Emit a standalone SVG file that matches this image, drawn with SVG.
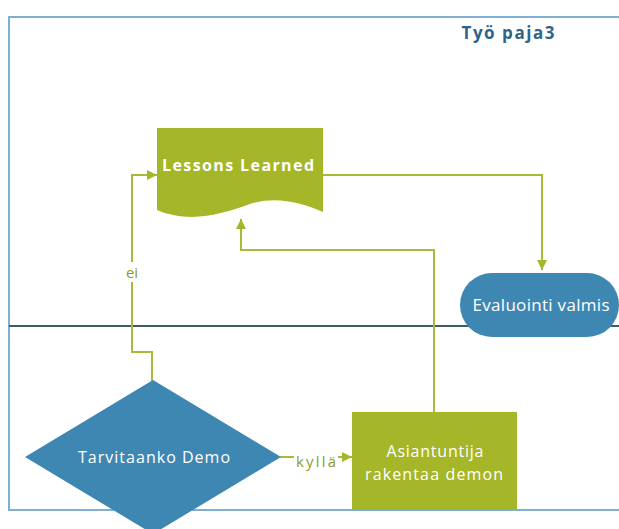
<svg xmlns="http://www.w3.org/2000/svg" width="619" height="529" viewBox="0 0 619 529">
  <style>
    .lane { fill: none; stroke: #7fb0d4; stroke-width: 2; }
    .divider { fill: none; stroke: #3c5c72; stroke-width: 2.2; }
    .green { fill: #a5b629; }
    .blue { fill: #3f87b3; }
    .conn { fill: none; stroke: #a9b93a; stroke-width: 2; }
    .label { font-family: "Open Sans", "Liberation Sans", sans-serif; fill: #ffffff; text-anchor: middle; }
    .clabel { font-family: "Open Sans", "Liberation Sans", sans-serif; fill: #8e9c2a; font-size: 15px; text-anchor: middle; }
  </style>
  <defs>
    <marker id="arrow" viewBox="0 0 10 10" refX="10" refY="5" markerWidth="10" markerHeight="10" markerUnits="userSpaceOnUse" orient="auto">
      <path d="M0,0 L10,5 L0,10 Z" fill="#a5b629"/>
    </marker>
  </defs>

  <rect width="619" height="529" fill="#ffffff"/>

  <!-- swimlane frame -->
  <g id="lanes">
    <line class="lane" x1="9" y1="17" x2="619" y2="17"/>
    <line class="lane" x1="9" y1="16" x2="9" y2="511"/>
    <line class="lane" x1="9" y1="510" x2="619" y2="510"/>
    <line class="divider" x1="9" y1="326" x2="619" y2="326"/>
    <text x="508" y="39" font-family="Open Sans, Liberation Sans, sans-serif" font-weight="bold" font-size="17" fill="#2f6489" text-anchor="middle" textLength="93" lengthAdjust="spacing">Työ paja3</text>
  </g>

  <!-- connectors -->
  <g id="connectors">
    <path class="conn" d="M323,175 H542 V270" marker-end="url(#arrow)"/>
    <path class="conn" d="M434,412 V250 H241 V219" marker-end="url(#arrow)"/>
    <path class="conn" d="M152,381 V352 H132 V175 H157" marker-end="url(#arrow)"/>
    <path class="conn" d="M280,457 H352" marker-end="url(#arrow)"/>
    <rect x="121" y="262" width="22" height="20" fill="#ffffff"/>
    <text class="clabel" x="132" y="278">ei</text>
    <rect x="294" y="450" width="44" height="20" fill="#ffffff"/>
    <text class="clabel" x="316" y="467" textLength="40" lengthAdjust="spacing">kyllä</text>
  </g>

  <g id="lessons-learned">
    <path class="green" d="M157,128 H323 V212 C300,202 275,196 250,204 C222,214 190,224 157,210 Z"/>
    <text class="label" x="238" y="171" font-size="16" font-weight="bold" textLength="152" lengthAdjust="spacing">Lessons Learned</text>
  </g>

  <g id="evaluointi-valmis">
    <rect class="blue" x="460" y="273" width="159" height="64" rx="32" ry="32"/>
    <text class="label" x="541" y="311" font-size="17" textLength="137" lengthAdjust="spacing">Evaluointi valmis</text>
  </g>

  <g id="tarvitaanko-demo">
    <path class="blue" d="M153,380 L281,457 L153,534 L25,457 Z"/>
    <text class="label" x="154" y="463" font-size="16" textLength="152" lengthAdjust="spacing">Tarvitaanko Demo</text>
  </g>

  <g id="asiantuntija">
    <rect class="green" x="352" y="412" width="165" height="98"/>
    <text class="label" x="435" y="457" font-size="16" textLength="97" lengthAdjust="spacing">Asiantuntija</text>
    <text class="label" x="434" y="480" font-size="16" textLength="138" lengthAdjust="spacing">rakentaa demon</text>
  </g>
</svg>
